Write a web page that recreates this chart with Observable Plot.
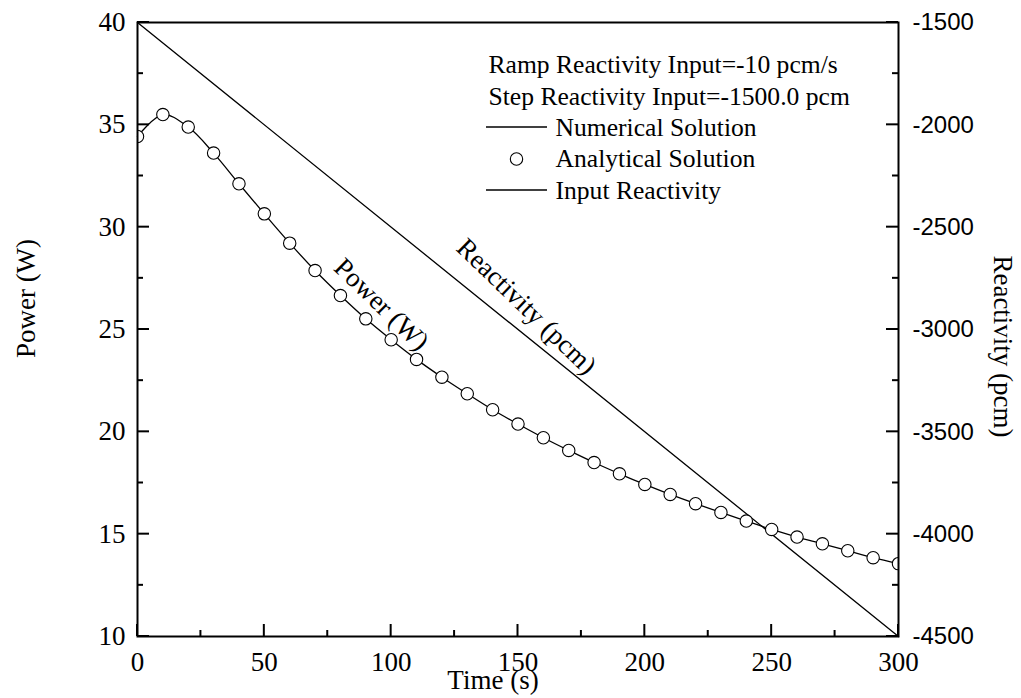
<!DOCTYPE html>
<html>
<head>
<meta charset="utf-8">
<script src="https://cdn.jsdelivr.net/npm/d3@7"></script>
<script src="https://cdn.jsdelivr.net/npm/@observablehq/plot@0.6"></script>
<style>
html, body { margin: 0; padding: 0; background: #fff; }
#chart svg { display: block; }
</style>
</head>
<body>
<div id="chart"></div>
<script>
// ---- data ----
const times = [0, 10, 20, 30, 40, 50, 60, 70, 80, 90, 100, 110, 120, 130, 140, 150,
  160, 170, 180, 190, 200, 210, 220, 230, 240, 250, 260, 270, 280, 290, 300];
const analyticalPower = [34.43, 35.50, 34.89, 33.62, 32.12, 30.65, 29.22, 27.88, 26.66, 25.52, 24.50,
  23.54, 22.67, 21.86, 21.08, 20.38, 19.71, 19.09, 18.50, 17.95, 17.43,
  16.94, 16.49, 16.06, 15.64, 15.23, 14.86, 14.53, 14.19, 13.85, 13.56];
const numericalPower = [34.43, 35.50, 34.89, 33.62, 32.12, 30.65, 29.22, 27.88, 26.66, 25.52, 24.50,
  23.54, 22.67, 21.86, 21.08, 20.38, 19.71, 19.09, 18.50, 17.95, 17.43,
  16.94, 16.49, 16.06, 15.64, 15.23, 14.86, 14.53, 14.19, 13.85, 13.56];
const reactivityTimes = [0, 300];
const inputReactivity = [-1500, -4500];

const timeTicks = [0, 50, 100, 150, 200, 250, 300];
const timeMinorTicks = [25, 75, 125, 175, 225, 275];
const powerTicks = [10, 15, 20, 25, 30, 35, 40];
const powerMinorTicks = [12.5, 17.5, 22.5, 27.5, 32.5, 37.5];
const reactivityTicks = [-4500, -4000, -3500, -3000, -2500, -2000, -1500];
const reactivityMinorTicks = [-4250, -3750, -3250, -2750, -2250, -1750];

const legendHeader = ["Ramp Reactivity Input=-10 pcm/s", "Step Reactivity Input=-1500.0 pcm"];
const legendSeries = ["Numerical Solution", "Analytical Solution", "Input Reactivity"];
const xTitle = "Time (s)";
const yTitle = "Power (W)";
const y2Title = "Reactivity (pcm)";
const powerCurveLabel = "Power (W)";
const reactivityCurveLabel = "Reactivity (pcm)";

// ---- build tables ----
const toPower = d3.scaleLinear().domain(d3.extent(reactivityTicks)).range(d3.extent(powerTicks));
const analytical = times.map((t, i) => ({t, p: analyticalPower[i]}));
const numerical = times.map((t, i) => ({t, p: numericalPower[i]}));
const reactivity = reactivityTimes.map((t, i) => ({t, r: inputReactivity[i]}));

const serif = "Liberation Serif";
const sans = "Liberation Sans";
const fs = 27;
const legendFs = 25.6;

// legend layout (offsets from the frame's top-left corner)
const legendTextDx = 351, legendSeriesDx = 418;
const headerDy = [42, 74];
const seriesDy = [105, 136.5, 168];

// inward ticks, drawn through Plot's own x / y scales
function inwardTicks(index, scales, values, dims) {
  const {x, y} = scales;
  const yb = dims.height - dims.marginBottom;
  const xl = dims.marginLeft, xr = dims.width - dims.marginRight;
  const g = d3.create("svg:g").attr("stroke", "black").attr("stroke-width", 2).attr("fill", "none");
  const seg = (x1, y1, x2, y2) => g.append("line").attr("x1", x1).attr("y1", y1).attr("x2", x2).attr("y2", y2);
  timeTicks.forEach(t => seg(x(t), yb, x(t), yb - 12));
  timeMinorTicks.forEach(t => seg(x(t), yb, x(t), yb - 6));
  powerTicks.forEach(p => seg(xl, y(p), xl + 12, y(p)));
  powerMinorTicks.forEach(p => seg(xl, y(p), xl + 6, y(p)));
  reactivityTicks.forEach(r => seg(xr, y(toPower(r)), xr - 12, y(toPower(r))));
  reactivityMinorTicks.forEach(r => seg(xr, y(toPower(r)), xr - 6, y(toPower(r))));
  return g.node();
}

function legendSwatches(index, scales, values, dims) {
  const x0 = dims.marginLeft + 349, x1 = dims.marginLeft + 410;
  const g = d3.create("svg:g").attr("stroke", "black").attr("stroke-width", 1.3).attr("fill", "none");
  [seriesDy[0], seriesDy[2]].forEach(dy => {
    g.append("line").attr("x1", x0).attr("x2", x1)
      .attr("y1", dims.marginTop + dy).attr("y2", dims.marginTop + dy);
  });
  return g.node();
}

const txt = {fill: "black", fontFamily: serif};

const chart = Plot.plot({
  width: 1021,
  height: 698,
  marginLeft: 137,
  marginRight: 123,
  marginTop: 22,
  marginBottom: 62,
  style: {background: "white", color: "black", fontFamily: serif},
  x: {domain: d3.extent(timeTicks)},
  y: {domain: d3.extent(powerTicks)},
  marks: [
    // tick labels
    Plot.axisX(timeTicks, {anchor: "bottom", tickSize: 0, tickPadding: 15, fontSize: fs, fontFamily: serif,
      tickFormat: d => String(d), label: null}),
    Plot.axisY(powerTicks, {anchor: "left", tickSize: 0, tickPadding: 12, fontSize: fs, fontFamily: serif,
      tickFormat: d => String(d), label: null}),
    Plot.axisY(reactivityTicks.map(toPower), {anchor: "right", tickSize: 0, tickPadding: 14, fontSize: 24,
      fontFamily: sans, tickFormat: d => String(Math.round(toPower.invert(d))), label: null}),
    inwardTicks,
    // data
    Plot.line(reactivity, {x: "t", y: d => toPower(d.r), stroke: "black", strokeWidth: 1.3}),
    Plot.line(numerical, {x: "t", y: "p", curve: "catmull-rom", stroke: "black", strokeWidth: 1.3}),
    Plot.dot(analytical, {x: "t", y: "p", r: 6.2, fill: "white", stroke: "black", strokeWidth: 1.1, clip: true}),
    Plot.frame({stroke: "black", strokeWidth: 2}),
    // in-plot curve labels
    Plot.text([powerCurveLabel], {frameAnchor: "top-left", dx: 244, dy: 282, rotate: 44,
      textAnchor: "middle", lineAnchor: "middle", fontSize: fs, ...txt}),
    Plot.text([reactivityCurveLabel], {frameAnchor: "top-left", dx: 389, dy: 284, rotate: 44,
      textAnchor: "middle", lineAnchor: "middle", fontSize: fs, ...txt}),
    // axis titles
    Plot.text([yTitle], {frameAnchor: "left", dx: -111, dy: -31, rotate: -90,
      textAnchor: "middle", lineAnchor: "middle", fontSize: fs, ...txt}),
    Plot.text([y2Title], {frameAnchor: "right", dx: 104, dy: 17, rotate: 90,
      textAnchor: "middle", lineAnchor: "middle", fontSize: fs, ...txt}),
    Plot.text([xTitle], {frameAnchor: "bottom", dx: -25, dy: 52,
      textAnchor: "middle", lineAnchor: "bottom", fontSize: fs, ...txt}),
    // legend
    ...legendHeader.map((s, i) => Plot.text([s], {frameAnchor: "top-left", dx: legendTextDx, dy: headerDy[i],
      textAnchor: "start", lineAnchor: "middle", fontSize: legendFs, ...txt})),
    ...legendSeries.map((s, i) => Plot.text([s], {frameAnchor: "top-left", dx: legendSeriesDx, dy: seriesDy[i],
      textAnchor: "start", lineAnchor: "middle", fontSize: legendFs, ...txt})),
    Plot.dot([legendSeries[1]], {frameAnchor: "top-left", dx: 379, dy: seriesDy[1], r: 6.2,
      fill: "white", stroke: "black", strokeWidth: 1.1}),
    legendSwatches
  ]
});
document.getElementById("chart").appendChild(chart);
</script>
</body>
</html>
